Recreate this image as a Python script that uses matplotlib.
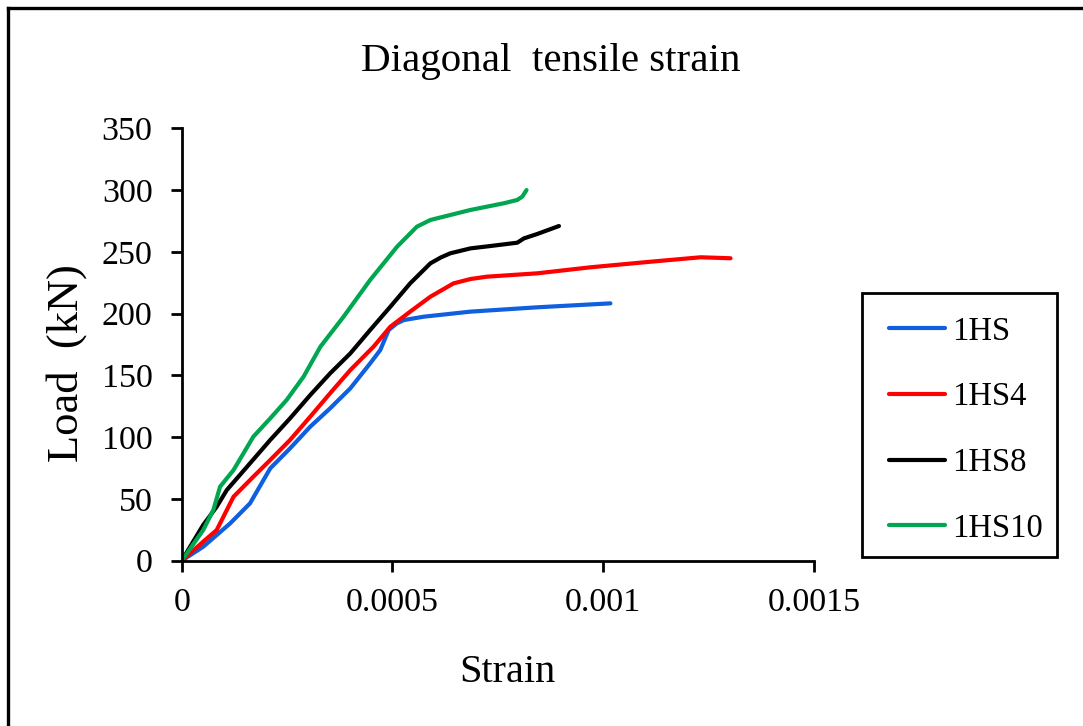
import matplotlib
matplotlib.use("Agg")
import matplotlib.pyplot as plt
from matplotlib.lines import Line2D
from matplotlib.patches import Rectangle

# Diagonal tensile strain (x1e-4) against load (kN) for each specimen
hs_strain = [0, 0.51, 1.15, 1.62, 2.10, 2.57, 3.05, 3.52, 4.00, 4.47, 4.71, 4.91,
             5.10, 5.27, 5.74, 6.85, 8.43, 10.17]
hs_load = [0, 11.3, 30.2, 46.4, 74.7, 90.9, 108.5, 123.3, 139.5, 159.7, 170.5, 186.7,
           192.0, 194.8, 197.5, 201.6, 205.1, 208.3]

hs4_strain = [0, 0.51, 0.83, 1.23, 1.70, 2.10, 2.57, 3.05, 3.52, 4.00, 4.55, 4.95,
              5.42, 5.90, 6.45, 6.85, 7.24, 8.43, 9.70, 11.12, 12.31, 13.02]
hs4_load = [0, 15.4, 24.8, 51.8, 68.0, 81.5, 97.7, 116.6, 135.5, 154.3, 173.2, 189.4,
            201.6, 213.7, 224.5, 228.0, 229.9, 232.6, 237.5, 242.0, 245.6, 244.8]

hs8_strain = [0, 0.51, 0.83, 1.07, 1.62, 2.10, 2.57, 3.05, 3.52, 4.00, 4.47, 4.95,
              5.42, 5.90, 6.15, 6.37, 6.85, 7.32, 7.96, 8.12, 8.43, 8.95]
hs8_load = [0, 28.9, 43.7, 57.2, 78.8, 97.7, 115.2, 134.1, 151.6, 167.8, 186.7, 205.6,
            224.5, 240.7, 245.5, 248.8, 252.8, 254.7, 257.4, 260.9, 264.4, 270.9]

hs10_strain = [0, 0.51, 0.75, 0.91, 1.23, 1.70, 2.10, 2.49, 2.89, 3.29, 3.84, 4.47,
               5.11, 5.58, 5.90, 6.85, 7.64, 7.96, 8.08, 8.18]
hs10_load = [0, 24.8, 41.0, 59.9, 73.4, 100.4, 115.2, 130.1, 148.9, 173.2, 197.5, 227.2,
             254.2, 270.4, 275.8, 283.9, 289.3, 292.0, 294.7, 300.0]

series_names = ["1HS", "1HS4", "1HS8", "1HS10"]
series_colors = ["#0F5FDF", "#FF0000", "#000000", "#00A650"]
series = [(hs_strain, hs_load), (hs4_strain, hs4_load),
          (hs8_strain, hs8_load), (hs10_strain, hs10_load)]

x_ticks = [0, 0.0005, 0.001, 0.0015]
x_tick_labels = ["0", "0.0005", "0.001", "0.0015"]
y_ticks = [0, 50, 100, 150, 200, 250, 300, 350]

plt.rcParams["font.family"] = ["Liberation Serif", "DejaVu Serif"]

W, H = 1083, 726
fig = plt.figure(figsize=(W / 100, H / 100), dpi=100)
ax = fig.add_axes([181.7 / W, 1 - 560.7 / H, (814 - 181.7) / W, (560.7 - 128.3) / H])

handles = []
for (sx, ly), name, col in zip(series, series_names, series_colors):
    xs = [v * 1e-4 for v in sx]
    h, = ax.plot(xs, ly, color=col, lw=3.0, solid_capstyle="round",
                 solid_joinstyle="round", label=name)
    handles.append(h)

ax.set_xlim(0, 0.0015)
ax.set_ylim(0, 350)
ax.set_xticks(x_ticks)
ax.set_xticklabels(x_tick_labels)
ax.set_yticks(y_ticks)
for s in ["top", "right"]:
    ax.spines[s].set_visible(False)
for s in ["left", "bottom"]:
    ax.spines[s].set_linewidth(2.0)
ax.tick_params(axis="both", direction="out", length=8, width=2.0, labelsize=24.5)
ax.tick_params(axis="y", pad=13)
ax.tick_params(axis="x", pad=11)

fig.text(551 / W, 1 - 62 / H, "Diagonal  tensile strain", ha="center", va="center",
         fontsize=29.5)
fig.text(507 / W, 1 - 672 / H, "Strain", ha="center", va="center", fontsize=29)
fig.text(67 / W, 1 - 363 / H, "Load  (kN)", ha="center", va="center",
         fontsize=32, rotation=90)

# Legend box on the right
bx0, by0, bx1, by1 = 862, 293, 1057, 557
fig.patches.append(Rectangle((bx0 / W, 1 - by1 / H), (bx1 - bx0) / W, (by1 - by0) / H,
                             transform=fig.transFigure, fill=False, lw=2.0,
                             edgecolor="black"))
leg = fig.legend(handles=handles, loc="center left",
                 bbox_to_anchor=(889 / W, 1 - 430 / H),
                 frameon=False, fontsize=23.5, handlelength=1.72,
                 handletextpad=0.22, labelspacing=1.08,
                 borderpad=0, borderaxespad=0)
for ln in leg.get_lines():
    ln.set_linewidth(3.0)

# Outer frame (top and left edges)
fig.lines.append(Line2D([8 / W, 1.0], [1 - 8 / H, 1 - 8 / H], transform=fig.transFigure,
                        color="black", lw=2.4))
fig.lines.append(Line2D([8 / W, 8 / W], [1 - 8 / H, 0.0], transform=fig.transFigure,
                        color="black", lw=2.4))

fig.savefig("out.png", dpi=100, facecolor="white")
